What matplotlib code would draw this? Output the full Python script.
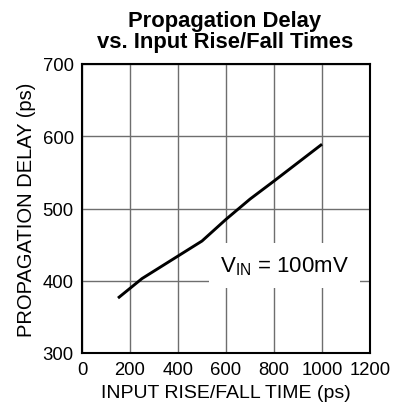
import matplotlib
matplotlib.use("Agg")
import matplotlib.pyplot as plt

plt.rcParams['font.family'] = ['Liberation Sans', 'DejaVu Sans']

rise_fall = [150, 250, 500, 600, 700, 800, 1000]
delay = [376, 403, 455, 485, 513, 538, 589]

xticks = [0, 200, 400, 600, 800, 1000, 1200]
yticks = [300, 400, 500, 600, 700]

fig = plt.figure(figsize=(4.08, 4.14), dpi=100)
ax = fig.add_axes([82/408, 1-354/414, 288/408, 289/414])

ax.plot(rise_fall, delay, color='black', lw=2.1, solid_capstyle='butt', zorder=3)

ax.set_xlim(0, 1200)
ax.set_ylim(300, 700)
ax.set_xticks(xticks)
ax.set_yticks(yticks)
ax.grid(True, color='#6e6e6e', lw=1.0)
ax.set_axisbelow(True)
ax.tick_params(length=0, labelsize=13.3, pad=6)
for s in ax.spines.values():
    s.set_linewidth(1.5)

ax.text(844, 413, r'V$_{\mathregular{IN}}$ = 100mV', fontsize=16, ha='center', va='baseline',
        bbox=dict(facecolor='white', edgecolor='none', pad=8), zorder=2)

ax.set_xlabel('INPUT RISE/FALL TIME (ps)', fontsize=14, labelpad=4)
ax.set_ylabel('PROPAGATION DELAY (ps)', fontsize=14.5, labelpad=5)
fig.text(225/408, 1-32/414, 'Propagation Delay\nvs. Input Rise/Fall Times', ha='center', va='center',
         fontsize=15.8, fontweight='bold', linespacing=1.05)

fig.savefig('out.png', dpi=100)
